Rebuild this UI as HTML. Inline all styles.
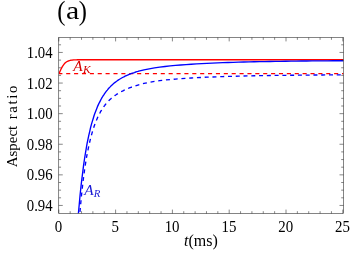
<!DOCTYPE html>
<html><head><meta charset="utf-8"><title>plot</title>
<style>
html,body{margin:0;padding:0;background:#fff;}
body{width:354px;height:264px;overflow:hidden;font-family:"Liberation Serif",serif;}
svg{display:block;will-change:transform;}
text{font-family:"Liberation Serif",serif;fill:#000;}
</style></head><body>
<svg width="354" height="264" viewBox="0 0 354 264">
<rect width="354" height="264" fill="#fff"/>
<defs><clipPath id="cp"><rect x="58.75" y="37.5" width="284.75" height="176.0"/></clipPath></defs>
<g clip-path="url(#cp)" fill="none" stroke-linejoin="round">
<path d="M59.0,73.64 L59.7,72.04 L60.4,70.48 L61.1,69.00 L61.8,67.63 L62.5,66.39 L63.2,65.29 L63.9,64.33 L64.6,63.51 L65.3,62.81 L66.0,62.23 L66.7,61.75 L67.4,61.36 L68.1,61.03 L68.8,60.77 L69.5,60.56 L70.2,60.39 L70.9,60.26 L71.6,60.15 L72.2,60.06 L72.9,59.99 L73.6,59.93 L74.3,59.89 L75.0,59.85 L75.7,59.83 L76.4,59.80 L77.1,59.79 L77.8,59.77 L78.5,59.76 L79.2,59.75 L79.9,59.74 L80.6,59.74 L81.3,59.73 L82.0,59.73 L82.7,59.73 L83.4,59.73 L84.1,59.72 L84.8,59.72 L85.5,59.72 L86.2,59.72 L86.9,59.72 L87.6,59.72 L88.3,59.72 L89.0,59.72 L89.7,59.72 L90.4,59.72 L91.1,59.72 L91.8,59.72 L92.5,59.72 L93.2,59.72 L218.3,59.72 L343.5,59.72" stroke="#ff0000" stroke-width="1.35"/>
<path d="M59.0,73.64 H343.5" stroke="#ff0000" stroke-width="1.35" stroke-dasharray="4.1 3.78" stroke-dashoffset="0.7"/>
<path d="M78.4,213.49 L79.3,203.72 L80.1,194.70 L81.0,186.37 L81.9,178.69 L82.8,171.60 L83.6,165.05 L84.5,159.00 L85.4,153.41 L86.3,148.24 L87.1,143.45 L88.0,139.01 L88.9,134.89 L89.8,131.06 L90.6,127.50 L91.5,124.18 L92.4,121.09 L93.3,118.21 L94.1,115.51 L95.0,112.99 L95.9,110.64 L96.8,108.42 L97.6,106.35 L98.5,104.40 L99.4,102.57 L100.3,100.84 L101.1,99.22 L102.0,97.68 L102.9,96.24 L103.8,94.87 L104.6,93.58 L105.5,92.35 L106.4,91.19 L107.3,90.10 L108.1,89.05 L109.0,88.06 L109.9,87.12 L110.7,86.23 L111.6,85.38 L112.5,84.57 L113.4,83.79 L114.2,83.06 L115.1,82.35 L116.0,81.68 L116.9,81.04 L117.7,80.43 L118.6,79.84 L119.5,79.28 L120.4,78.74 L121.2,78.23 L122.1,77.73 L123.0,77.26 L123.9,76.80 L124.7,76.36 L125.6,75.94 L126.5,75.54 L127.4,75.15 L128.2,74.78 L129.1,74.42 L130.0,74.07 L130.9,73.74 L131.7,73.42 L132.6,73.11 L133.5,72.81 L134.4,72.52 L135.2,72.24 L136.1,71.97 L137.0,71.71 L137.9,71.46 L138.7,71.21 L144.0,69.91 L149.2,68.82 L154.5,67.91 L159.7,67.14 L165.0,66.48 L170.2,65.90 L175.5,65.40 L180.7,64.96 L186.0,64.56 L191.2,64.21 L196.5,63.89 L201.7,63.60 L207.0,63.34 L212.2,63.10 L217.5,62.88 L222.7,62.68 L228.0,62.49 L233.2,62.32 L238.5,62.17 L243.7,62.02 L249.0,61.89 L254.2,61.77 L259.5,61.66 L264.7,61.55 L270.0,61.46 L275.2,61.37 L280.5,61.30 L285.7,61.22 L291.0,61.16 L296.2,61.09 L301.5,61.04 L306.7,60.99 L312.0,60.94 L317.2,60.89 L322.5,60.85 L327.7,60.81 L333.0,60.77 L338.2,60.74 L343.5,60.71" stroke="#0000ff" stroke-width="1.35"/>
<path d="M79.8,213.48 L80.7,203.86 L81.5,195.14 L82.4,187.22 L83.2,180.01 L84.1,173.43 L84.9,167.42 L85.8,161.92 L86.6,156.87 L87.5,152.23 L88.4,147.95 L89.2,144.01 L90.1,140.36 L90.9,136.99 L91.8,133.86 L92.6,130.96 L93.5,128.26 L94.3,125.74 L95.2,123.40 L96.0,121.21 L96.9,119.17 L97.7,117.25 L98.6,115.46 L99.5,113.78 L100.3,112.20 L101.2,110.72 L102.0,109.32 L102.9,108.01 L103.7,106.77 L104.6,105.60 L105.4,104.50 L106.3,103.46 L107.1,102.48 L108.0,101.55 L108.8,100.66 L109.7,99.83 L110.6,99.03 L111.4,98.28 L112.3,97.56 L113.1,96.88 L114.0,96.23 L114.8,95.60 L115.7,95.01 L116.5,94.44 L117.4,93.89 L118.2,93.37 L119.1,92.87 L119.9,92.38 L120.8,91.91 L121.7,91.46 L122.5,91.02 L123.4,90.60 L124.2,90.19 L125.1,89.80 L125.9,89.41 L126.8,89.04 L127.6,88.68 L128.5,88.32 L129.3,87.98 L130.2,87.64 L131.0,87.32 L131.9,87.00 L132.8,86.70 L133.6,86.40 L134.5,86.11 L135.3,85.83 L136.2,85.55 L137.0,85.29 L137.9,85.03 L138.7,84.78 L144.0,83.42 L149.2,82.31 L154.5,81.41 L159.7,80.67 L165.0,80.05 L170.2,79.52 L175.5,79.06 L180.7,78.65 L186.0,78.29 L191.2,77.97 L196.5,77.68 L201.7,77.42 L207.0,77.18 L212.2,76.97 L217.5,76.77 L222.7,76.59 L228.0,76.43 L233.2,76.28 L238.5,76.14 L243.7,76.01 L249.0,75.90 L254.2,75.79 L259.5,75.69 L264.7,75.60 L270.0,75.52 L275.2,75.44 L280.5,75.37 L285.7,75.30 L291.0,75.24 L296.2,75.19 L301.5,75.14 L306.7,75.09 L312.0,75.04 L317.2,75.00 L322.5,74.96 L327.7,74.93 L333.0,74.89 L338.2,74.86 L343.5,74.83" stroke="#0000ff" stroke-width="1.35" stroke-dasharray="4.0 3.77" stroke-dashoffset="6.22"/>
</g>
<g stroke="#222" stroke-width="0.55" fill="none">
<rect x="58.75" y="37.5" width="284.75" height="176.0"/>
<path d="M58.80,213.5 v-3.9 M58.80,37.5 v3.9"/>
<path d="M70.16,213.5 v-2.3 M70.16,37.5 v2.3"/>
<path d="M81.52,213.5 v-2.3 M81.52,37.5 v2.3"/>
<path d="M92.88,213.5 v-2.3 M92.88,37.5 v2.3"/>
<path d="M104.24,213.5 v-2.3 M104.24,37.5 v2.3"/>
<path d="M115.60,213.5 v-3.9 M115.60,37.5 v3.9"/>
<path d="M126.96,213.5 v-2.3 M126.96,37.5 v2.3"/>
<path d="M138.32,213.5 v-2.3 M138.32,37.5 v2.3"/>
<path d="M149.68,213.5 v-2.3 M149.68,37.5 v2.3"/>
<path d="M161.04,213.5 v-2.3 M161.04,37.5 v2.3"/>
<path d="M172.40,213.5 v-3.9 M172.40,37.5 v3.9"/>
<path d="M183.76,213.5 v-2.3 M183.76,37.5 v2.3"/>
<path d="M195.12,213.5 v-2.3 M195.12,37.5 v2.3"/>
<path d="M206.48,213.5 v-2.3 M206.48,37.5 v2.3"/>
<path d="M217.84,213.5 v-2.3 M217.84,37.5 v2.3"/>
<path d="M229.20,213.5 v-3.9 M229.20,37.5 v3.9"/>
<path d="M240.56,213.5 v-2.3 M240.56,37.5 v2.3"/>
<path d="M251.92,213.5 v-2.3 M251.92,37.5 v2.3"/>
<path d="M263.28,213.5 v-2.3 M263.28,37.5 v2.3"/>
<path d="M274.64,213.5 v-2.3 M274.64,37.5 v2.3"/>
<path d="M286.00,213.5 v-3.9 M286.00,37.5 v3.9"/>
<path d="M297.36,213.5 v-2.3 M297.36,37.5 v2.3"/>
<path d="M308.72,213.5 v-2.3 M308.72,37.5 v2.3"/>
<path d="M320.08,213.5 v-2.3 M320.08,37.5 v2.3"/>
<path d="M331.44,213.5 v-2.3 M331.44,37.5 v2.3"/>
<path d="M342.80,213.5 v-3.9 M342.80,37.5 v3.9"/>
<path d="M58.75,205.45 h4.0 M343.5,205.45 h-4.0"/>
<path d="M58.75,197.80 h2.3 M343.5,197.80 h-2.3"/>
<path d="M58.75,190.15 h2.3 M343.5,190.15 h-2.3"/>
<path d="M58.75,182.50 h2.3 M343.5,182.50 h-2.3"/>
<path d="M58.75,174.85 h4.0 M343.5,174.85 h-4.0"/>
<path d="M58.75,167.20 h2.3 M343.5,167.20 h-2.3"/>
<path d="M58.75,159.55 h2.3 M343.5,159.55 h-2.3"/>
<path d="M58.75,151.90 h2.3 M343.5,151.90 h-2.3"/>
<path d="M58.75,144.25 h4.0 M343.5,144.25 h-4.0"/>
<path d="M58.75,136.60 h2.3 M343.5,136.60 h-2.3"/>
<path d="M58.75,128.95 h2.3 M343.5,128.95 h-2.3"/>
<path d="M58.75,121.30 h2.3 M343.5,121.30 h-2.3"/>
<path d="M58.75,113.65 h4.0 M343.5,113.65 h-4.0"/>
<path d="M58.75,106.00 h2.3 M343.5,106.00 h-2.3"/>
<path d="M58.75,98.35 h2.3 M343.5,98.35 h-2.3"/>
<path d="M58.75,90.70 h2.3 M343.5,90.70 h-2.3"/>
<path d="M58.75,83.05 h4.0 M343.5,83.05 h-4.0"/>
<path d="M58.75,75.40 h2.3 M343.5,75.40 h-2.3"/>
<path d="M58.75,67.75 h2.3 M343.5,67.75 h-2.3"/>
<path d="M58.75,60.10 h2.3 M343.5,60.10 h-2.3"/>
<path d="M58.75,52.45 h4.0 M343.5,52.45 h-4.0"/>
<path d="M58.75,44.80 h2.3 M343.5,44.80 h-2.3"/>
</g>
<g font-size="15.7">
<text transform="translate(52.6,211.05) scale(0.94,1)" text-anchor="end">0.94</text>
<text transform="translate(52.6,180.45) scale(0.94,1)" text-anchor="end">0.96</text>
<text transform="translate(52.6,149.85) scale(0.94,1)" text-anchor="end">0.98</text>
<text transform="translate(52.6,119.25) scale(0.94,1)" text-anchor="end">1.00</text>
<text transform="translate(52.6,88.65) scale(0.94,1)" text-anchor="end">1.02</text>
<text transform="translate(52.6,58.05) scale(0.94,1)" text-anchor="end">1.04</text>
<text transform="translate(58.50,232.1) scale(0.95,1)" text-anchor="middle">0</text>
<text transform="translate(115.30,232.1) scale(0.95,1)" text-anchor="middle">5</text>
<text transform="translate(172.10,232.1) scale(0.95,1)" text-anchor="middle">10</text>
<text transform="translate(228.90,232.1) scale(0.95,1)" text-anchor="middle">15</text>
<text transform="translate(285.70,232.1) scale(0.95,1)" text-anchor="middle">20</text>
<text transform="translate(342.50,232.1) scale(0.95,1)" text-anchor="middle">25</text>
</g>
<text transform="translate(16.6,167.2) rotate(-90)" font-size="14.9">Aspect<tspan dx="6.5" letter-spacing="1.65">ratio</tspan></text>
<text transform="translate(57.2,19.66) scale(0.88,1)" font-size="27.9">(</text>
<text transform="translate(65.9,19.3) scale(1.16,1)" font-size="25.7">a</text>
<text transform="translate(78.7,19.66) scale(0.88,1)" font-size="27.9">)</text>
<text x="184" y="245.7" font-size="16"><tspan font-style="italic">t</tspan>(ms)</text>
<g font-style="italic" style="fill:#d40000">
<text x="73.2" y="70.75" font-size="15.3" style="fill:#d40000">A</text>
<text x="82.94" y="72.8" font-size="11.3" style="fill:#d40000">K</text>
</g>
<g font-style="italic">
<text x="84.24" y="194.8" font-size="15.3" style="fill:#1a1ad4">A</text>
<text x="93.85" y="197.1" font-size="10.8" style="fill:#1a1ad4">R</text>
</g>
</svg>
</body></html>
